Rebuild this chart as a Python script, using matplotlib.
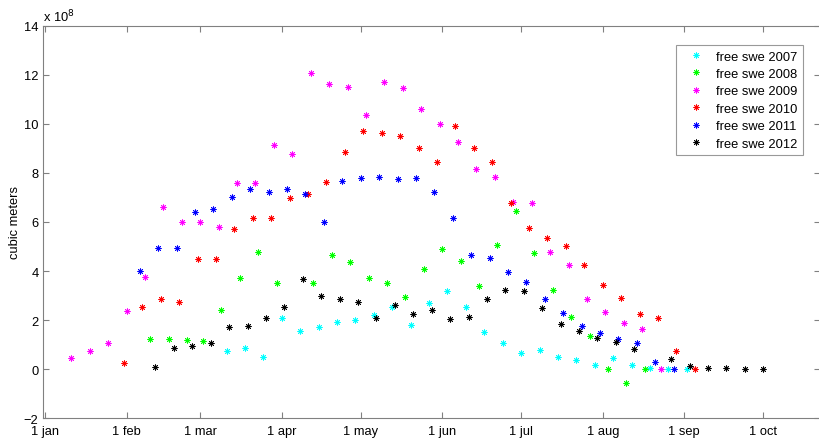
import matplotlib
matplotlib.use('Agg')
import matplotlib.pyplot as plt

# day of year (1 jan = 0), values in units of 1e8 cubic meters
days_2007 = [69, 76, 83, 90, 97, 104, 111, 118, 125, 132, 139, 146, 153, 160, 167,
             174, 181, 188, 195, 202, 209, 216, 223, 230, 237, 244]
swe_2007 = [0.75, 0.86, 0.48, 2.08, 1.54, 1.73, 1.94, 2.02, 2.20, 2.55, 1.82, 2.70, 3.19,
            2.54, 1.51, 1.06, 0.65, 0.77, 0.48, 0.38, 0.18, 0.45, 0.19, 0.05, 0.0, 0.0]

days_2008 = [40, 47, 54, 60, 67, 74, 81, 88, 102, 109, 116, 123, 130, 137, 144, 151,
             158, 165, 172, 179, 186, 193, 200, 207, 214, 221, 228]
swe_2008 = [1.25, 1.22, 1.19, 1.14, 2.42, 3.71, 4.77, 3.53, 3.53, 4.65, 4.36, 3.71, 3.53,
            2.95, 4.07, 4.89, 4.39, 3.41, 5.07, 6.44, 4.73, 3.22, 2.12, 1.34, 0.0, -0.57, 0.0]

days_2009 = [10, 17, 24, 31, 38, 45, 52, 59, 66, 73, 80, 87, 94, 101, 108, 115, 122,
             129, 136, 143, 150, 157, 164, 171, 178, 185, 192, 199, 206, 213, 220, 227, 234]
swe_2009 = [0.44, 0.76, 1.07, 2.38, 3.76, 6.60, 6.00, 6.00, 5.81, 7.58, 7.58, 9.14, 8.76,
            12.06, 11.64, 11.50, 10.36, 11.71, 11.48, 10.60, 10.01, 9.28, 8.16, 7.85, 6.82,
            6.79, 4.78, 4.25, 2.88, 2.35, 1.90, 1.63, 0.0]

days_2010 = [30, 37, 44, 51, 58, 65, 72, 79, 86, 93, 100, 107, 114, 121, 128, 135, 142,
             149, 156, 163, 170, 177, 184, 191, 198, 205, 212, 219, 226, 233, 240, 247]
swe_2010 = [0.26, 2.54, 2.85, 2.72, 4.48, 4.51, 5.70, 6.15, 6.15, 6.97, 7.13, 7.63, 8.87,
            9.69, 9.62, 9.52, 9.00, 8.45, 9.91, 9.00, 8.44, 6.76, 5.77, 5.33, 5.04, 4.25,
            3.42, 2.91, 2.24, 2.08, 0.75, 0.0]

days_2011 = [36, 43, 50, 57, 64, 71, 78, 85, 92, 99, 106, 113, 120, 127, 134, 141, 148,
             155, 162, 169, 176, 183, 190, 197, 204, 211, 218, 225, 232, 239]
swe_2011 = [4.02, 4.96, 4.92, 6.41, 6.52, 7.00, 7.36, 7.24, 7.36, 7.13, 5.98, 7.69, 7.81,
            7.85, 7.77, 7.78, 7.21, 6.15, 4.65, 4.52, 3.97, 3.56, 2.85, 2.28, 1.75, 1.47,
            1.22, 1.06, 0.31, 0.0]

days_2012 = [42, 49, 56, 63, 70, 77, 84, 91, 98, 105, 112, 119, 126, 133, 140, 147, 154,
             161, 168, 175, 182, 189, 196, 203, 210, 217, 224, 238, 245, 252, 259, 266, 273]
swe_2012 = [0.11, 0.88, 0.94, 1.07, 1.74, 1.78, 2.09, 2.55, 3.69, 3.00, 2.86, 2.73, 2.09,
            2.63, 2.23, 2.42, 2.05, 2.13, 2.86, 3.21, 3.17, 2.50, 1.85, 1.54, 1.29, 1.11,
            0.83, 0.41, 0.14, 0.04, 0.04, 0.0, 0.0]

month_days = [0, 31, 59, 90, 120, 151, 181, 212, 243, 273]
month_labels = ['1 jan', '1 feb', '1 mar', '1 apr', '1 may', '1 jun', '1 jul', '1 aug',
                '1 sep', '1 oct']

series = [
    (days_2007, swe_2007, '#00ffff', 'free swe 2007'),
    (days_2008, swe_2008, '#00ff00', 'free swe 2008'),
    (days_2009, swe_2009, '#ff00ff', 'free swe 2009'),
    (days_2010, swe_2010, '#ff0000', 'free swe 2010'),
    (days_2011, swe_2011, '#0000ff', 'free swe 2011'),
    (days_2012, swe_2012, '#000000', 'free swe 2012'),
]

plt.rcParams['font.family'] = ['Liberation Sans', 'DejaVu Sans']
plt.rcParams['font.size'] = 9.3

fig = plt.figure(figsize=(8.2, 4.39), dpi=100)
ax = fig.add_axes([0.052, 0.0449, 0.948, 0.8943])

for d, v, c, lab in series:
    ax.plot(d, v, linestyle='none', marker=(8, 2, 0), markersize=4.3,
            markeredgewidth=0.6, color=c, label=lab)

ax.set_xlim(-0.9, 294.6)
ax.set_ylim(-2, 14)
ax.set_xticks(month_days)
ax.set_xticklabels(month_labels)
ax.set_yticks(range(-2, 15, 2))

for s in ax.spines.values():
    s.set_color('#808080')
    s.set_linewidth(0.8)
ax.tick_params(direction='in', length=4, width=0.8, color='#808080',
               top=True, right=True, labelsize=9.3)
ax.tick_params(axis='x', pad=5)
ax.tick_params(axis='y', pad=3)

ax.set_ylabel('cubic meters', fontsize=9.3, labelpad=2)
ax.text(0.0, 1.004, r'x 10$^8$', transform=ax.transAxes, fontsize=9.3,
        ha='left', va='bottom')

leg = ax.legend(loc='upper right', bbox_to_anchor=(0.978, 0.950), borderaxespad=0,
                fancybox=False, numpoints=1, handlelength=2.2, handletextpad=0.5,
                labelspacing=0.42, borderpad=0.4, fontsize=9.3)
leg.get_frame().set_edgecolor('#808080')
leg.get_frame().set_linewidth(0.8)

fig.savefig('out.png', dpi=100)
